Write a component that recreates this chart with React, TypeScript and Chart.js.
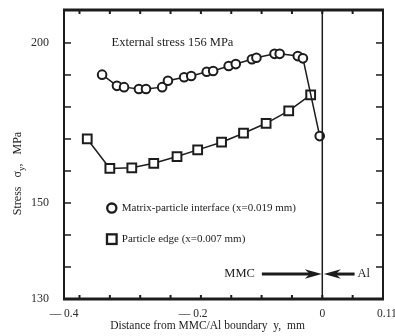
import { useEffect, useRef } from "react";
import { Chart, registerables } from "chart.js";

Chart.register(...registerables);

// ---- data ----
const interfaceX = [-0.341, -0.318, -0.307, -0.284, -0.273, -0.248, -0.239, -0.214, -0.203, -0.179, -0.169, -0.145, -0.134, -0.109, -0.102, -0.074, -0.066, -0.038, -0.03, -0.004];
const interfaceY = [190.1, 186.6, 186.2, 185.6, 185.6, 186.2, 188.2, 189.3, 189.7, 191.0, 191.25, 192.8, 193.4, 194.9, 195.4, 196.6, 196.6, 195.9, 195.2, 170.9];
const edgeX = [-0.364, -0.329, -0.295, -0.261, -0.225, -0.193, -0.156, -0.122, -0.087, -0.052, -0.018];
const edgeY = [170.0, 160.8, 161.0, 162.4, 164.5, 166.6, 169.0, 171.8, 174.9, 178.75, 183.75];

const seriesNames = ["Matrix-particle interface (x=0.019 mm)", "Particle edge (x=0.007 mm)"];

const xRange = [-0.4, 0.094];
const yRange = [120, 210.3];
const xTickValues = [-0.4, -0.2, 0, 0.1];
const xTickLabels = ["\u2014 0.4", "\u2014 0.2", "0", "0.11"];
const xTickMarkStep = 0.047;
const yTickValues = [120, 130, 140, 150, 160, 170, 180, 190, 200];
const yTickLabels: Record<number, string> = { 200: "200", 150: "150", 120: "130" };

const noteText = "External stress 156 MPa";
const boundaryLabels = ["MMC", "Al"];
const xTitle = "Distance from MMC/Al boundary  y,  mm";

const ink = "#1c1c1c";
const serif = "'Liberation Serif', 'Times New Roman', serif";

const overlay = {
  id: "overlay",
  afterDraw(chart: any) {
    const { ctx, chartArea: a, scales } = chart;
    const xs = scales.x;
    const ys = scales.y;
    const X = (v: number) => xs.getPixelForValue(v);
    const Y = (v: number) => ys.getPixelForValue(v);
    const line = (x1: number, y1: number, x2: number, y2: number) => {
      ctx.beginPath();
      ctx.moveTo(x1, y1);
      ctx.lineTo(x2, y2);
      ctx.stroke();
    };
    ctx.save();
    ctx.strokeStyle = ink;
    ctx.fillStyle = ink;

    // boundary line at y = 0
    ctx.lineWidth = 1.5;
    line(X(0), a.top, X(0), a.bottom);

    // frame
    ctx.lineWidth = 2;
    ctx.strokeRect(a.left, a.top, a.right - a.left, a.bottom - a.top);
    ctx.lineWidth = 3;
    line(a.left - 1, a.top, a.right + 1, a.top);
    line(a.left - 1, a.bottom, a.right + 1, a.bottom);

    // inward y tick marks (both sides)
    ctx.lineWidth = 1.5;
    for (const v of yTickValues) {
      const y = Y(v);
      line(a.left, y, a.left + 7, y);
      line(a.right - 7, y, a.right, y);
    }
    // inward x tick marks (top and bottom)
    ctx.lineWidth = 2;
    for (let k = -20; k <= 20; k++) {
      const v = k * xTickMarkStep;
      if (v <= xs.min || v >= xs.max) continue;
      const x = X(v);
      line(x, a.top, x, a.top + 4);
      line(x, a.bottom - 4, x, a.bottom);
    }

    // note
    ctx.font = `12.5px ${serif}`;
    ctx.textAlign = "center";
    ctx.textBaseline = "middle";
    ctx.fillText(noteText, X(-0.232), Y(200));

    // legend
    const lx = X(-0.326);
    ctx.lineWidth = 2.3;
    ctx.beginPath();
    ctx.arc(lx, Y(148.4), 4.6, 0, Math.PI * 2);
    ctx.stroke();
    ctx.strokeRect(lx - 4.8, Y(138.7) - 4.8, 9.6, 9.6);
    ctx.font = `11px ${serif}`;
    ctx.textAlign = "left";
    ctx.fillText(seriesNames[0], lx + 10, Y(148.4));
    ctx.fillText(seriesNames[1], lx + 10, Y(138.7));

    // boundary arrows
    const ay = Y(127.8);
    const arrow = (from: number, to: number) => {
      const dir = Math.sign(to - from);
      ctx.lineWidth = 3;
      line(from, ay, to - dir * 11, ay);
      ctx.beginPath();
      ctx.moveTo(to, ay);
      ctx.lineTo(to - dir * 17, ay - 4.8);
      ctx.lineTo(to - dir * 12, ay);
      ctx.lineTo(to - dir * 17, ay + 4.8);
      ctx.closePath();
      ctx.fill();
    };
    arrow(X(-0.0936), X(0) - 0.5);
    arrow(X(0.05), X(0) + 1.5);
    ctx.font = `12.5px ${serif}`;
    ctx.textAlign = "right";
    ctx.fillText(boundaryLabels[0], X(-0.0936) - 7, ay);
    ctx.textAlign = "left";
    ctx.fillText(boundaryLabels[1], X(0.05) + 3, ay);

    // x title
    ctx.font = `11.5px ${serif}`;
    ctx.textAlign = "center";
    ctx.fillText(xTitle, (a.left + a.right) / 2 - 16, a.bottom + 27);

    // y title (rotated, with subscript)
    ctx.translate(a.left - 47, (a.top + a.bottom) / 2 + 19);
    ctx.rotate(-Math.PI / 2);
    const p1 = "Stress   \u03c3";
    const p2 = "y";
    const p3 = ",   MPa";
    ctx.font = `12px ${serif}`;
    const w1 = ctx.measureText(p1).width;
    const w3 = ctx.measureText(p3).width;
    ctx.font = `9px ${serif}`;
    const w2 = ctx.measureText(p2).width;
    let cx = -(w1 + w2 + w3) / 2;
    ctx.textAlign = "left";
    ctx.textBaseline = "alphabetic";
    ctx.font = `12px ${serif}`;
    ctx.fillText(p1, cx, 4);
    cx += w1;
    ctx.font = `9px ${serif}`;
    ctx.fillText(p2, cx, 7);
    cx += w2;
    ctx.font = `12px ${serif}`;
    ctx.fillText(p3, cx, 4);

    ctx.restore();
  },
};

export default function App() {
  const ref = useRef<HTMLCanvasElement | null>(null);
  useEffect(() => {
    if (!ref.current) return;
    const chart = new Chart(ref.current, {
      type: "scatter",
      data: {
        datasets: [
          {
            label: seriesNames[0],
            data: interfaceX.map((x, i) => ({ x, y: interfaceY[i] })),
            showLine: true,
            borderColor: ink,
            borderWidth: 1.5,
            pointStyle: "circle",
            pointRadius: 4.3,
            pointBorderWidth: 2,
            pointBackgroundColor: "#ffffff",
            pointBorderColor: ink,
          },
          {
            label: seriesNames[1],
            data: edgeX.map((x, i) => ({ x, y: edgeY[i] })),
            showLine: true,
            borderColor: ink,
            borderWidth: 1.5,
            pointStyle: "rect",
            pointRadius: 6.2,
            pointBorderWidth: 2,
            pointBackgroundColor: "#ffffff",
            pointBorderColor: ink,
          },
        ],
      },
      options: {
        responsive: false,
        animation: false,
        devicePixelRatio: 1,
        layout: { padding: { top: 10, right: 12, left: 0, bottom: 0 } },
        plugins: { legend: { display: false }, tooltip: { enabled: false } },
        scales: {
          x: {
            type: "linear",
            bounds: "data",
            min: xRange[0],
            max: xRange[1],
            grid: { display: false },
            border: { display: false },
            afterBuildTicks: (s: any) => {
              s.ticks = xTickValues.map((value) => ({ value }));
            },
            afterFit: (s: any) => {
              s.height = 37;
              s.paddingLeft = 0;
              s.paddingRight = 0;
            },
            ticks: {
              autoSkip: false,
              maxRotation: 0,
              padding: 0,
              color: "#2a2a2a",
              font: { family: serif, size: 11.5 },
              callback: (_v: any, i: number) => xTickLabels[i],
            },
          },
          y: {
            type: "linear",
            bounds: "data",
            min: yRange[0],
            max: yRange[1],
            grid: { display: false },
            border: { display: false },
            afterBuildTicks: (s: any) => {
              s.ticks = yTickValues.map((value) => ({ value }));
            },
            afterFit: (s: any) => {
              s.width = 64;
              s.paddingTop = 0;
              s.paddingBottom = 0;
            },
            ticks: {
              autoSkip: false,
              padding: 7,
              color: "#2a2a2a",
              font: { family: serif, size: 12 },
              callback: (v: any) => yTickLabels[v as number] ?? "",
            },
          },
        },
      },
      plugins: [overlay],
    });
    return () => chart.destroy();
  }, []);
  return (
    <div style={{ position: "fixed", left: 0, top: 0, width: 395, height: 336, background: "#fff" }}>
      <canvas ref={ref} width={395} height={336} />
    </div>
  );
}
